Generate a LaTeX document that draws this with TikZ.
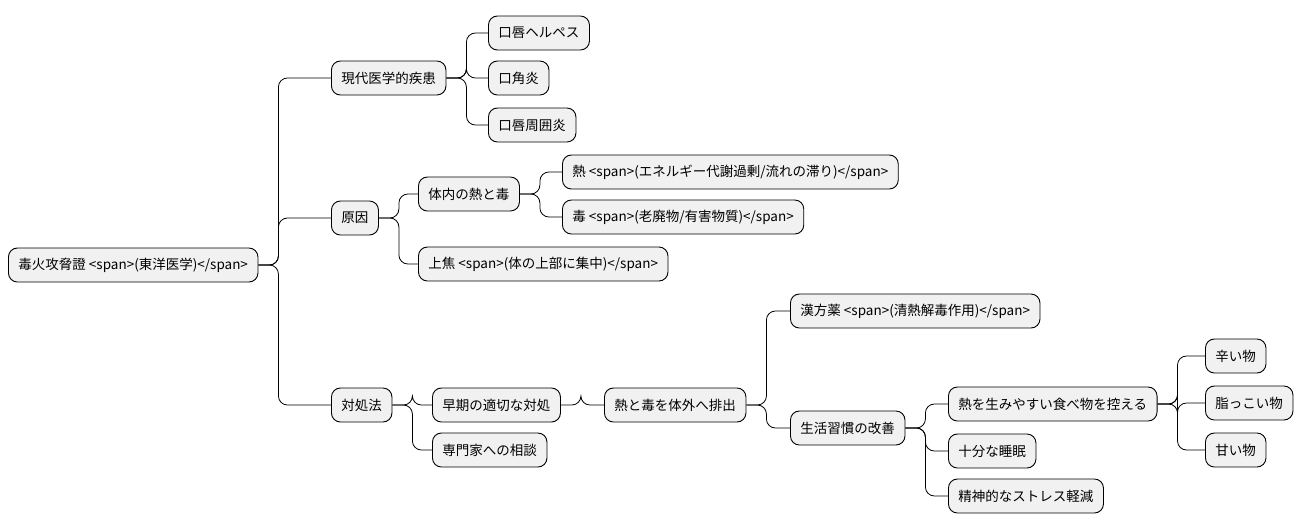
\documentclass[tikz,border=0pt]{standalone}
\usepackage{fontspec}
\setmainfont{Noto Sans CJK JP}
\begin{document}
\begin{tikzpicture}[x=1pt,y=-1pt,
  n/.style={draw=black,line width=0.9pt,fill={rgb,255:red,241;green,241;blue,241},rounded corners=9pt,anchor=west,minimum height=34pt,inner xsep=10pt,font=\fontsize{13.5}{15}\selectfont},
  c/.style={line width=0.8pt,rounded corners=9pt}]
\useasboundingbox (0,0) rectangle (1305,530);
\node[n] (r) at (8,265) {毒火攻脅證 <span>(東洋医学)</span>};
\node[n] (a) at (331,78) {現代医学的疾患};
\node[n] (a1) at (488,33) {口唇ヘルペス};
\node[n] (a2) at (488,78) {口角炎};
\node[n] (a3) at (488,125) {口唇周囲炎};
\node[n] (b) at (331,218) {原因};
\node[n] (b1) at (418,194) {体内の熱と毒};
\node[n] (b11) at (562,172) {熱 <span>(エネルギー代謝過剰/流れの滞り)</span>};
\node[n] (b12) at (562,217) {毒 <span>(老廃物/有害物質)</span>};
\node[n] (b2) at (418,264) {上焦 <span>(体の上部に集中)</span>};
\node[n] (d) at (331,405) {対処法};
\node[n] (d1) at (432,405) {早期の適切な対処};
\node[n] (d2) at (432,450) {専門家への相談};
\node[n] (e) at (604,405) {熱と毒を体外へ排出};
\node[n] (e1) at (790,311) {漢方薬 <span>(清熱解毒作用)</span>};
\node[n] (e2) at (790,428) {生活習慣の改善};
\node[n] (f1) at (948,404) {熱を生みやすい食べ物を控える};
\node[n] (f2) at (948,451) {十分な睡眠};
\node[n] (f3) at (948,496) {精神的なストレス軽減};
\node[n] (g1) at (1205,356) {辛い物};
\node[n] (g2) at (1205,403) {脂っこい物};
\node[n] (g3) at (1205,450) {甘い物};
\foreach \p/\ch in {r/a,r/b,r/d,a/a1,a/a2,a/a3,b/b1,b/b2,b1/b11,b1/b12,d/d1,d/d2,d1/e,e/e1,e/e2,e2/f1,e2/f2,e2/f3,f1/g1,f1/g2,f1/g3}
  \draw[c] (\p.east) -- ([xshift=20pt]\p.east) |- (\ch.west);
\end{tikzpicture}
\end{document}
